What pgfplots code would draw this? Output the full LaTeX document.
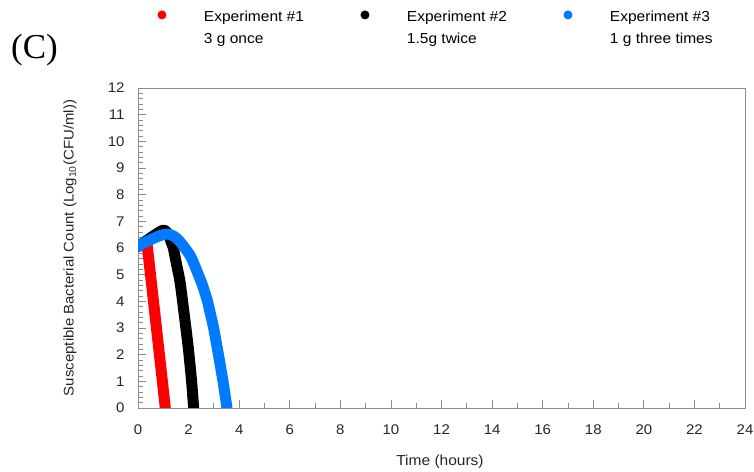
\documentclass[border=0pt]{standalone}
\usepackage{fontspec}
\setmainfont{Liberation Sans}[FakeStretch=1.07]
\newfontfamily\serifC{Liberation Serif}
\usepackage{pgfplots}
\pgfplotsset{compat=1.18}
\definecolor{expblue}{RGB}{0,122,255}
\definecolor{axgray}{RGB}{140,140,140}
\newcommand{\legtext}[2]{\fontsize{14.5bp}{22bp}\selectfont\begin{tabular}{@{}p{156.5bp}@{}}#1\\#2\end{tabular}}
\begin{document}
\begin{tikzpicture}
\path[use as bounding box] (0bp,0bp) rectangle (754bp,472bp);
\node[font=\serifC\fontsize{35bp}{40bp}\selectfont] at (34.5bp,421.5bp) {(C)};
\begin{axis}[
  at={(138bp,64bp)}, anchor=south west,
  scale only axis, width=607bp, height=320bp,
  xmin=0, xmax=24, ymin=0, ymax=12,
  xtick distance=2, ytick distance=1,
  minor x tick num=1, minor y tick num=4,
  tick align=inside, tick pos=left,
  major tick length=8bp, minor tick length=5bp,
  axis line style={axgray, line width=0.8bp},
  every tick/.style={axgray, line width=0.8bp},
  /pgf/number format/assume math mode=true,
  ticklabel style={font=\fontsize{14bp}{16bp}\selectfont, text=black!85},
  yticklabel style={xshift=-10bp},
  xticklabel style={yshift=-13bp},
  xlabel={Time (hours)},
  ylabel={Susceptible Bacterial Count (Log\textsubscript{10}(CFU/ml))},
  xlabel style={font=\fontsize{14.5bp}{16bp}\selectfont, text=black!85, at={(axis description cs:0.4975,-0.181)}, anchor=base},
  ylabel style={font=\fontsize{14bp}{16bp}\selectfont, text=black!85, at={(axis description cs:-0.112,0.5)}, anchor=center},
  legend columns=3,
  legend cell align=left,
  legend style={draw=none, fill=none, inner sep=0pt, outer sep=0pt,
    nodes={inner sep=0pt, outer sep=0pt},
    at={(axis description cs:0.0321,1.2573)}, anchor=north west,
    column sep=0pt,
    /tikz/every even column/.append style={column sep=0pt}},
  legend image code/.code={%
    \path[draw=none, fill=none, line width=0pt] (-4.5bp,0bp) -- (42bp,0bp);
    \path[#1, draw=none, line width=0pt, fill] (0bp,4.3bp) circle[radius=4.5bp];},
]
\addplot[color=red, line width=11bp, line cap=round, line join=round] coordinates {
(0,6.05) (0.2,6.17) (0.33,6.2) (0.37,6.05) (0.5,4.95) (0.7,3.25) (0.9,1.55) (1.08,0)};
\addlegendentry{\legtext{Experiment \#1}{3 g once}}
\addplot[color=black, line width=11bp, line cap=round, line join=round, smooth, tension=0.4] coordinates {
(0,6.05) (0.3,6.25) (0.6,6.45) (0.85,6.6) (1.0,6.67) (1.12,6.62) (1.24,6.42) (1.32,6.2) (1.40,5.99) (1.52,5.4) (1.66,4.74) (1.83,3.49) (1.99,2.24) (2.12,0.99) (2.2,0)};
\addlegendentry{\legtext{Experiment \#2}{1.5g twice}}
\addplot[color=expblue, line width=11bp, line cap=round, line join=round, smooth, tension=0.5] coordinates {
(0,6.05) (0.25,6.2) (0.47,6.3) (0.75,6.42) (1.0,6.5) (1.2,6.52) (1.4,6.45) (1.6,6.3) (1.86,5.99) (2.1,5.65) (2.37,5.04) (2.55,4.6) (2.74,4.03) (2.87,3.5) (2.99,3.0) (3.18,2.0) (3.36,1.0) (3.52,0)};
\addlegendentry{\legtext{Experiment \#3}{1 g three times}}
\end{axis}
\end{tikzpicture}
\end{document}
